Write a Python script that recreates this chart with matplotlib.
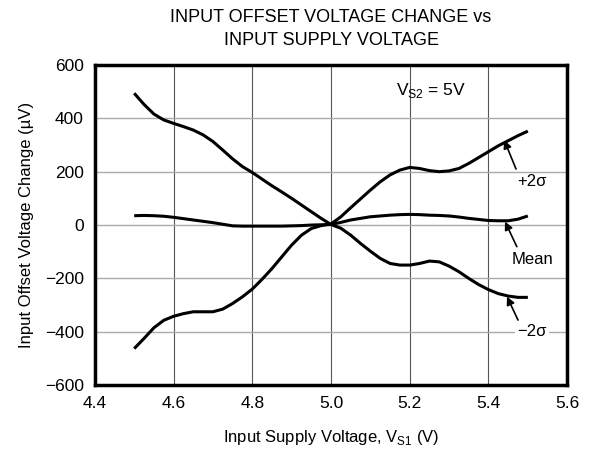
import matplotlib.pyplot as plt

plt.rcParams['font.family'] = ['Liberation Sans', 'DejaVu Sans']

# Input supply voltage V_S1 (V)
vs1 = [4.500, 4.525, 4.550, 4.575, 4.600, 4.625, 4.650, 4.675, 4.700, 4.725,
       4.750, 4.775, 4.800, 4.825, 4.850, 4.875, 4.900, 4.925, 4.950, 4.975,
       5.000, 5.025, 5.050, 5.075, 5.100, 5.125, 5.150, 5.175, 5.200, 5.225,
       5.250, 5.275, 5.300, 5.325, 5.350, 5.375, 5.400, 5.425, 5.450, 5.475,
       5.500]

# Offset voltage change (uV)
plus_2sigma = [-463, -425, -385, -357, -342, -332, -325, -325, -325, -315,
               -294, -269, -240, -203, -163, -119, -75, -38, -13, -2,
               4, 31, 65, 98, 131, 162, 188, 206, 216, 212,
               204, 200, 203, 212, 231, 253, 275, 297, 316, 335,
               352]
minus_2sigma = [494, 452, 416, 394, 381, 369, 356, 338, 313, 281,
                248, 219, 197, 172, 147, 124, 100, 75, 50, 25,
                2, -12, -38, -69, -98, -125, -144, -150, -150, -144,
                -135, -138, -154, -175, -200, -223, -242, -257, -266, -271,
                -271]
mean = [35, 36, 35, 33, 29, 24, 19, 14, 9, 3,
        -3, -4, -4, -4, -4, -4, -3, -2, 0, 1,
        2, 10, 19, 25, 31, 34, 37, 39, 40, 39,
        37, 36, 34, 30, 25, 21, 17, 16, 16, 22,
        34]

# curve labels: text, text position, arrow tail, arrow head
labels = [('+2\u03c3', (5.51, 162), (5.47, 210), (5.44, 318)),
          ('Mean', (5.513, -130), (5.472, -81), (5.442, 13)),
          ('\u22122\u03c3', (5.51, -400), (5.475, -356), (5.447, -268))]

fig = plt.figure(figsize=(5.89, 4.51), dpi=100)
ax = fig.add_axes([0.161, 0.146, 0.802, 0.710])

for s in (plus_2sigma, minus_2sigma, mean):
    ax.plot(vs1, s, color='black', lw=2.2, solid_capstyle='butt',
            solid_joinstyle='round', zorder=3)

ax.set_xlim(4.4, 5.6)
ax.set_ylim(-600, 600)
ax.set_xticks([4.4, 4.6, 4.8, 5.0, 5.2, 5.4, 5.6])
ax.set_yticks(range(-600, 601, 200))
ax.set_xticklabels(['4.4', '4.6', '4.8', '5.0', '5.2', '5.4', '5.6'])

# vertical grid darker, horizontal grid lighter
for x in [4.6, 4.8, 5.0, 5.2, 5.4]:
    ax.axvline(x, color='#555555', lw=0.8, zorder=1)
for y in [-400, -200, 0, 200, 400]:
    ax.axhline(y, color='#aaaaaa', lw=1.0, zorder=1)

for sp in ax.spines.values():
    sp.set_linewidth(2.5)
ax.tick_params(direction='in', length=0, labelsize=12.5, pad=8)

ax.set_xlabel('Input Supply Voltage, V$_{\\mathregular{S1}}$ (V)', fontsize=12, labelpad=12)
ax.set_ylabel('Input Offset Voltage Change (\u00b5V)', fontsize=12, labelpad=8)
fig.text(0.562, 0.961, 'INPUT OFFSET VOLTAGE CHANGE vs', ha='center', va='center', fontsize=13)
fig.text(0.562, 0.910, 'INPUT SUPPLY VOLTAGE', ha='center', va='center', fontsize=13)

ax.text(5.255, 504, 'V$_{\\mathregular{S2}}$ = 5V', ha='center', va='center', fontsize=12.5)

arrow = dict(arrowstyle='-|>', color='black', lw=1.2, mutation_scale=12, shrinkA=0, shrinkB=0)
for txt, pos, tail, head in labels:
    box = None
    if txt.startswith('\u2212'):
        box = dict(boxstyle='square,pad=0.15', fc='white', ec='none')
    ax.text(pos[0], pos[1], txt, ha='center', va='center', fontsize=12, bbox=box, zorder=4)
    ax.annotate('', xy=head, xytext=tail, arrowprops=arrow, zorder=4)

fig.savefig('out.png', dpi=100)
